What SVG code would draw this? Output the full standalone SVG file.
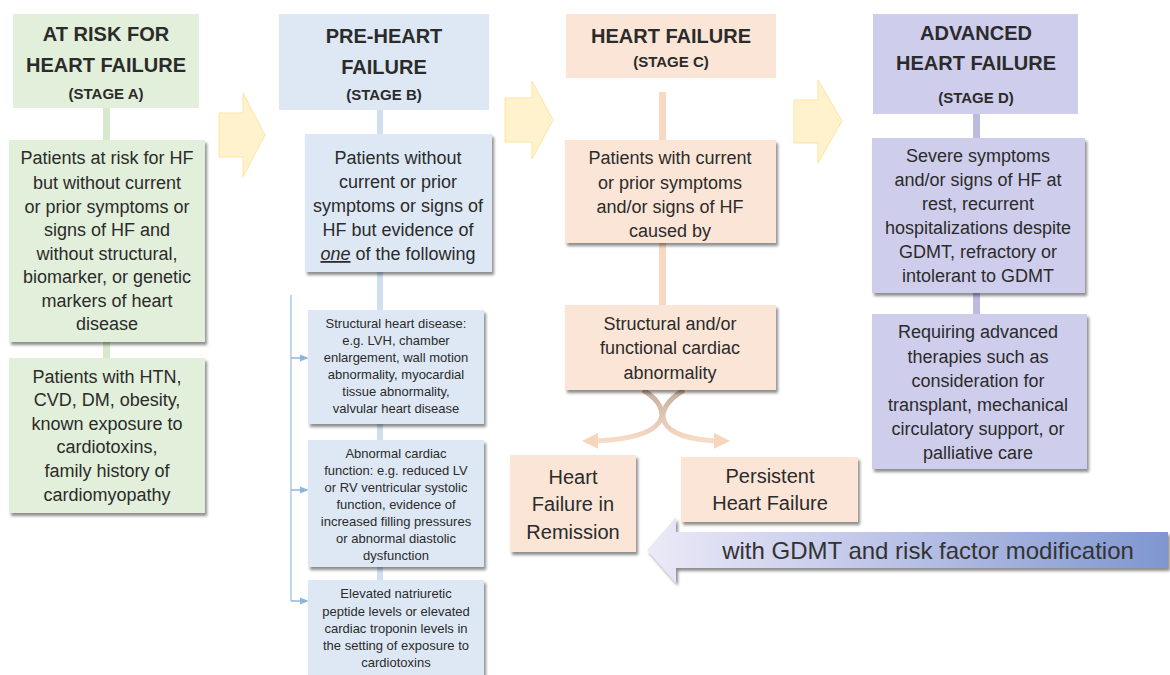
<svg xmlns="http://www.w3.org/2000/svg" width="1170" height="675" viewBox="0 0 1170 675">
<defs>
<style>
text{font-family:"Liberation Sans",Arial,sans-serif;fill:#2b2b2b;text-anchor:middle}
.h{font-weight:bold;font-size:20px}
.s{font-weight:bold;font-size:15px}
.t{font-size:18px}
.m{font-size:13px}
.l{font-size:20px}
.g{fill:#e2efda}
.b{fill:#dde8f4}
.p{fill:#fbe5d6}
.v{fill:#cecdec}
.gc{fill:#d8e8cc}
.bc{fill:#cfdff0}
.pc{fill:#f7d9c2}
.vc{fill:#bdbbe2}
.ya{fill:#fff2cc;stroke:#fbe5a0;stroke-width:1}
</style>
<filter id="sh" x="-10%" y="-10%" width="125%" height="125%">
<feGaussianBlur in="SourceAlpha" stdDeviation="1.5"/>
<feOffset dx="2" dy="2.5" result="o"/>
<feComponentTransfer><feFuncA type="linear" slope="0.45"/></feComponentTransfer>
<feMerge><feMergeNode/><feMergeNode in="SourceGraphic"/></feMerge>
</filter>
<linearGradient id="bg" x1="0" y1="0" x2="1" y2="0">
<stop offset="0" stop-color="#eceaf7"/>
<stop offset="0.35" stop-color="#c9cdec"/>
<stop offset="1" stop-color="#7f96d0"/>
</linearGradient>
<linearGradient id="cg" x1="0" y1="0" x2="0" y2="1">
<stop offset="0" stop-color="#c4ae9c"/>
<stop offset="1" stop-color="#f8dcc8"/>
</linearGradient>
<marker id="ca" viewBox="0 0 10 10" refX="5" refY="5" markerWidth="3.2" markerHeight="3.2" orient="auto">
<path d="M0,0 L10,5 L0,10 z" fill="#f6d5bd"/>
</marker>
<marker id="ba" viewBox="0 0 10 10" refX="8" refY="5" markerWidth="6" markerHeight="6" orient="auto">
<path d="M0,1 L10,5 L0,9 z" fill="#8fb4da"/>
</marker>
</defs>

<!-- connectors -->
<g id="connectors">
<rect class="gc" x="103" y="108" width="7" height="32"/>
<rect class="gc" x="103" y="342" width="7" height="16"/>
<rect class="bc" x="377" y="110" width="6" height="24"/>
<rect class="bc" x="377" y="272" width="6" height="38"/>
<rect class="bc" x="377" y="424" width="6" height="16"/>
<rect class="bc" x="377" y="567" width="6" height="13"/>
<rect class="pc" x="659" y="92" width="7" height="48"/>
<rect class="pc" x="659" y="243" width="7" height="62"/>
<rect class="vc" x="973" y="114" width="7" height="24"/>
<rect class="vc" x="973" y="293" width="7" height="21"/>
<path d="M291,295 V601" stroke="#a9c8e8" stroke-width="1.5" fill="none"/>
<path d="M291,358 H307" stroke="#8fb4da" stroke-width="1.5" fill="none" marker-end="url(#ba)"/>
<path d="M291,490 H307" stroke="#8fb4da" stroke-width="1.5" fill="none" marker-end="url(#ba)"/>
<path d="M291,601 H307" stroke="#8fb4da" stroke-width="1.5" fill="none" marker-end="url(#ba)"/>
<path d="M643,390 C676,410 670,440 590,441" stroke="url(#cg)" stroke-width="5" fill="none" marker-end="url(#ca)"/>
<path d="M684,390 C650,410 654,440 722,441" stroke="url(#cg)" stroke-width="5" fill="none" marker-end="url(#ca)"/>
<polygon class="ya" points="219,113 243,113 243,93 265,135 243,177 243,157 219,157"/>
<polygon class="ya" points="505,98 532,98 532,81 553,120 532,159 532,142 505,142"/>
<polygon class="ya" points="794,100 818,100 818,80 842,121 818,163 818,143 794,143"/>
<g filter="url(#sh)">
<polygon fill="url(#bg)" points="1168,532 676,532 676,517 647,550 676,583 676,568 1168,568"/>
</g>
<text x="928" y="559" style="font-size:24px;fill:#333">with GDMT and risk factor modification</text>
</g>

<!-- Stage A -->
<g id="stageA-header">
<rect class="g" x="13" y="14" width="186" height="94"/>
<text class="h" x="106" y="41">AT RISK FOR</text>
<text class="h" x="106" y="72">HEART FAILURE</text>
<text class="s" x="106" y="99">(STAGE A)</text>
</g>
<g id="stageA-box1">
<rect class="g" x="9" y="140" width="196" height="202" filter="url(#sh)"/>
<text class="t" x="107" y="164">Patients at risk for HF</text>
<text class="t" x="107" y="189">but without current</text>
<text class="t" x="107" y="213">or prior symptoms or</text>
<text class="t" x="107" y="236">signs of HF and</text>
<text class="t" x="107" y="260">without structural,</text>
<text class="t" x="107" y="283">biomarker, or genetic</text>
<text class="t" x="107" y="307">markers of heart</text>
<text class="t" x="107" y="330">disease</text>
</g>
<g id="stageA-box2">
<rect class="g" x="9" y="358" width="196" height="155" filter="url(#sh)"/>
<text class="t" x="107" y="383">Patients with HTN,</text>
<text class="t" x="107" y="406">CVD, DM, obesity,</text>
<text class="t" x="107" y="430">known exposure to</text>
<text class="t" x="107" y="453">cardiotoxins,</text>
<text class="t" x="107" y="477">family history of</text>
<text class="t" x="107" y="501">cardiomyopathy</text>
</g>

<!-- Stage B -->
<g id="stageB-header">
<rect class="b" x="279" y="14" width="210" height="96"/>
<text class="h" x="384" y="43">PRE-HEART</text>
<text class="h" x="384" y="74">FAILURE</text>
<text class="s" x="384" y="100">(STAGE B)</text>
</g>
<g id="stageB-box1">
<rect class="b" x="305" y="134" width="187" height="138" filter="url(#sh)"/>
<text class="t" x="398" y="164">Patients without</text>
<text class="t" x="398" y="188">current or prior</text>
<text class="t" x="398" y="212">symptoms or signs of</text>
<text class="t" x="398" y="236">HF but evidence of</text>
<text class="t" x="398" y="260"><tspan style="font-style:italic;text-decoration:underline">one</tspan> of the following</text>
</g>
<g id="stageB-sub1">
<rect class="b" x="308" y="310" width="176" height="114" filter="url(#sh)"/>
<text class="m" x="396" y="328">Structural heart disease:</text>
<text class="m" x="396" y="345">e.g. LVH, chamber</text>
<text class="m" x="396" y="362">enlargement, wall motion</text>
<text class="m" x="396" y="379">abnormality, myocardial</text>
<text class="m" x="396" y="396">tissue abnormality,</text>
<text class="m" x="396" y="413">valvular heart disease</text>
</g>
<g id="stageB-sub2">
<rect class="b" x="308" y="440" width="176" height="127" filter="url(#sh)"/>
<text class="m" x="396" y="458">Abnormal cardiac</text>
<text class="m" x="396" y="475">function: e.g. reduced LV</text>
<text class="m" x="396" y="492">or RV ventricular systolic</text>
<text class="m" x="396" y="509">function, evidence of</text>
<text class="m" x="396" y="526">increased filling pressures</text>
<text class="m" x="396" y="543">or abnormal diastolic</text>
<text class="m" x="396" y="560">dysfunction</text>
</g>
<g id="stageB-sub3">
<rect class="b" x="308" y="580" width="176" height="100" filter="url(#sh)"/>
<text class="m" x="396" y="598">Elevated natriuretic</text>
<text class="m" x="396" y="616">peptide levels or elevated</text>
<text class="m" x="396" y="633">cardiac troponin levels in</text>
<text class="m" x="396" y="650">the setting of exposure to</text>
<text class="m" x="396" y="667">cardiotoxins</text>
</g>

<!-- Stage C -->
<g id="stageC-header">
<rect class="p" x="566" y="14" width="210" height="64"/>
<text class="h" x="671" y="43">HEART FAILURE</text>
<text class="s" x="671" y="67">(STAGE C)</text>
</g>
<g id="stageC-box1">
<rect class="p" x="565" y="140" width="211" height="103" filter="url(#sh)"/>
<text class="t" x="670" y="164">Patients with current</text>
<text class="t" x="670" y="189">or prior symptoms</text>
<text class="t" x="670" y="213">and/or signs of HF</text>
<text class="t" x="670" y="237">caused by</text>
</g>
<g id="stageC-box2">
<rect class="p" x="565" y="305" width="211" height="85" filter="url(#sh)"/>
<text class="t" x="670" y="330">Structural and/or</text>
<text class="t" x="670" y="354">functional cardiac</text>
<text class="t" x="670" y="379">abnormality</text>
</g>
<g id="remission">
<rect class="p" x="510" y="455" width="126" height="97" filter="url(#sh)"/>
<text class="l" x="573" y="484">Heart</text>
<text class="l" x="573" y="511">Failure in</text>
<text class="l" x="573" y="539">Remission</text>
</g>
<g id="persistent">
<rect class="p" x="681" y="457" width="177" height="65" filter="url(#sh)"/>
<text class="l" x="770" y="483">Persistent</text>
<text class="l" x="770" y="510">Heart Failure</text>
</g>

<!-- Stage D -->
<g id="stageD-header">
<rect class="v" x="873" y="14" width="205" height="100"/>
<text class="h" x="976" y="40">ADVANCED</text>
<text class="h" x="976" y="70">HEART FAILURE</text>
<text class="s" x="976" y="103">(STAGE D)</text>
</g>
<g id="stageD-box1">
<rect class="v" x="872" y="138" width="213" height="155" filter="url(#sh)"/>
<text class="t" x="978" y="162">Severe symptoms</text>
<text class="t" x="978" y="186">and/or signs of HF at</text>
<text class="t" x="978" y="210">rest, recurrent</text>
<text class="t" x="978" y="234">hospitalizations despite</text>
<text class="t" x="978" y="258">GDMT, refractory or</text>
<text class="t" x="978" y="282">intolerant to GDMT</text>
</g>
<g id="stageD-box2">
<rect class="v" x="872" y="314" width="215" height="155" filter="url(#sh)"/>
<text class="t" x="978" y="338">Requiring advanced</text>
<text class="t" x="978" y="363">therapies such as</text>
<text class="t" x="978" y="387">consideration for</text>
<text class="t" x="978" y="411">transplant, mechanical</text>
<text class="t" x="978" y="435">circulatory support, or</text>
<text class="t" x="978" y="459">palliative care</text>
</g>
</svg>
